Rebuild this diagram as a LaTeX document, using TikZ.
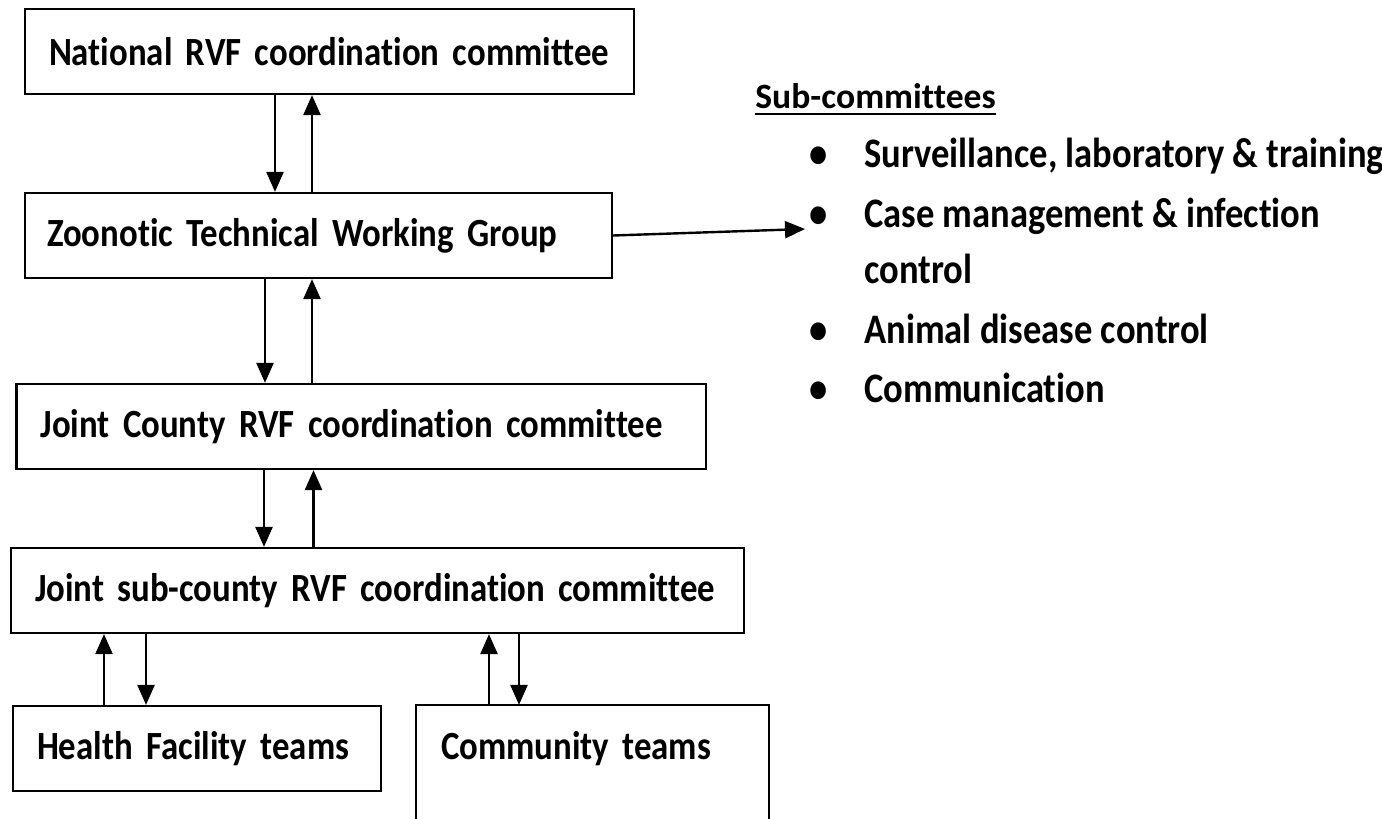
\documentclass[tikz,border=0pt]{standalone}
\usepackage{fontspec}
\setmainfont{Carlito}[FakeStretch=0.87, Ligatures=NoCommon]
\newfontfamily\headfont{Carlito}[Ligatures=NoCommon]
\usetikzlibrary{arrows.meta}
\usetikzlibrary{positioning}

\begin{document}
\begin{tikzpicture}[x=0.5pt, y=-0.5pt,
    box/.style={draw, line width=1.1pt, inner xsep=12pt, inner ysep=0pt, minimum height=42.5pt,
      align=left, font=\fontsize{20}{24}\selectfont\bfseries},
    link/.style={line width=1.2pt, -{Triangle[length=10pt, width=8.5pt]}},
    subitem/.style={anchor=base west, inner sep=0pt, font=\fontsize{21}{25}\selectfont\bfseries}]
    \useasboundingbox (0,0) rectangle (1382,819);

    \node[box, text width=280.5pt] (national) at (329.5,51.5) {National RVF coordination committee};
    \node[box, text width=271.5pt, inner xsep=11pt] (ztwg) at (318.5,235.5) {Zoonotic Technical Working Group};
    \node[box, text width=320.75pt] (county) at (361.25,426.5) {Joint County RVF coordination committee};
    \node[box, text width=342.5pt] (subcounty) at (377.5,590.5) {Joint sub-county RVF coordination committee};
    \node[box, text width=160pt] (health) at (197,748.5) {Health Facility teams};
    \node[box, draw=none, text width=151.5pt] (community) at (592.5,748.5) {Community teams};
    % open at the bottom
    \draw[line width=1.1pt] (community.north west |- 0,830) -- (community.north west)
      -- (community.north east) -- (community.north east |- 0,830);

    % sub-committee list
    \node[anchor=base west, inner sep=0pt, font=\headfont\fontsize{17.8}{21}\selectfont\bfseries] (subhead) at (755,108) {Sub-committees};
    \draw[line width=1.3pt] ([yshift=-3pt]subhead.base west) -- ([yshift=-3pt]subhead.base east);
    \node[subitem] (item1) at (809,167) {\makebox[27.5pt][l]{•}Surveillance, laboratory \& training};
    \node[subitem] (item2) at (809,227) {\makebox[27.5pt][l]{•}Case management \& infection};
    \node[subitem] (item2b) at (864,283) {control};
    \node[subitem] (item3) at (809,343) {\makebox[27.5pt][l]{•}Animal disease control};
    \node[subitem] (item4) at (809,402) {\makebox[27.5pt][l]{•}Communication};
    \coordinate (listtip) at (805,229);

    \draw[link] (ztwg.east) -- (listtip);

    % down / up pairs
    \foreach \top/\bot/\dn/\up in {national/ztwg/275/312, ztwg/county/265/312, county/subcounty/264/313.5}{
      \draw[link] (\top.south -| \dn,0) -- (\bot.north -| \dn,0);
      \draw[link] (\bot.north -| \up,0) -- (\top.south -| \up,0);
    }
    \foreach \bot/\up/\dn in {health/104/146, community/489/519}{
      \draw[link] (\bot.north -| \up,0) -- (subcounty.south -| \up,0);
      \draw[link] (subcounty.south -| \dn,0) -- (\bot.north -| \dn,0);
    }
\end{tikzpicture}
\end{document}
